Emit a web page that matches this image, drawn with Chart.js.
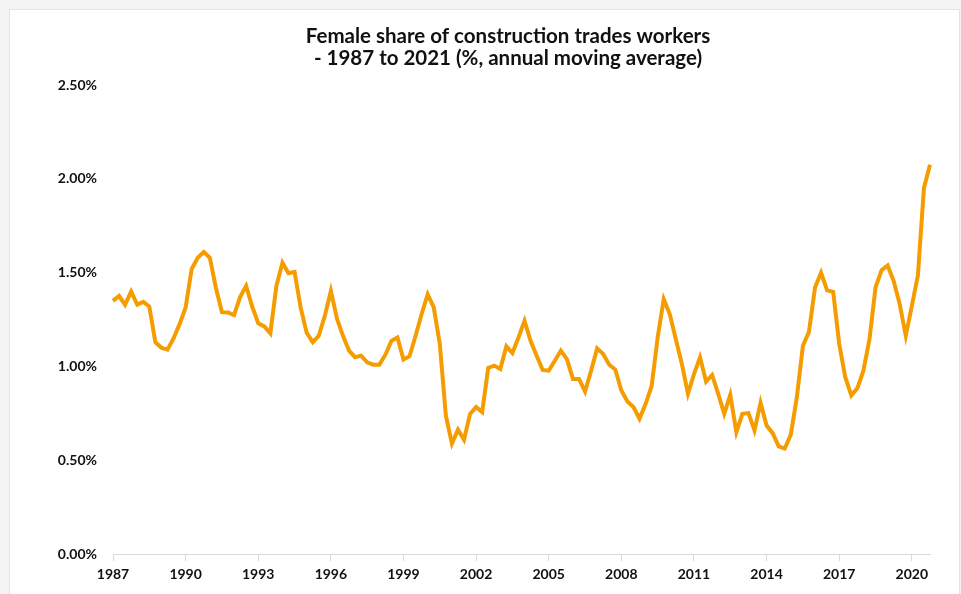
<!DOCTYPE html>
<html>
<head>
<meta charset="utf-8">
<script src="https://cdn.jsdelivr.net/npm/chart.js@4"></script>
<style>
  html, body { margin: 0; padding: 0; background: #f3f3f3; overflow: hidden; }
  #card {
    position: absolute; left: 10px; top: 10px; width: 949px; height: 600px;
    background: #fff; box-shadow: 0 0 0 1px #e2e2e2; overflow: hidden;
  }
  canvas { display: block; }
</style>
</head>
<body>
<div id="card"><canvas id="shareChart" width="996" height="584"></canvas></div>
<script>
"use strict";

const years = [1987, 1988, 1989, 1990, 1991, 1992, 1993, 1994, 1995, 1996, 1997, 1998,
  1999, 2000, 2001, 2002, 2003, 2004, 2005, 2006, 2007, 2008, 2009, 2010, 2011, 2012,
  2013, 2014, 2015, 2016, 2017, 2018, 2019, 2020];
const quarters = ["Q1", "Q2", "Q3", "Q4"];
const tickYears = ["1987", "1990", "1993", "1996", "1999", "2002", "2005", "2008",
  "2011", "2014", "2017", "2020"];

// female share, % (annual moving average), quarterly
const femaleShare = [
  1.35, 1.376, 1.33, 1.40, 1.33, 1.345, 1.32, 1.13, 1.10, 1.09, 1.15, 1.226,
  1.315, 1.52, 1.58, 1.61, 1.58, 1.42, 1.29, 1.288, 1.274, 1.37, 1.43, 1.32,
  1.23, 1.214, 1.177, 1.43, 1.553, 1.497, 1.504, 1.315, 1.18, 1.13, 1.164, 1.27,
  1.403, 1.256, 1.164, 1.085, 1.05, 1.058, 1.023, 1.01, 1.01, 1.062, 1.137, 1.155,
  1.037, 1.055, 1.164, 1.28, 1.385, 1.315, 1.12, 0.74, 0.59, 0.664, 0.61, 0.748,
  0.784, 0.757, 0.993, 1.005, 0.987, 1.108, 1.072, 1.155, 1.244, 1.137, 1.058, 0.982,
  0.978, 1.031, 1.085, 1.04, 0.934, 0.934, 0.867, 0.978, 1.097, 1.067, 1.01, 0.984,
  0.872, 0.814, 0.784, 0.722, 0.80, 0.895, 1.155, 1.359, 1.28, 1.146, 1.014, 0.855,
  0.96, 1.049, 0.92, 0.955, 0.855, 0.748, 0.849, 0.651, 0.748, 0.752, 0.66, 0.807,
  0.686, 0.645, 0.575, 0.563, 0.637, 0.837, 1.111, 1.185, 1.421, 1.50, 1.406, 1.398,
  1.12, 0.943, 0.846, 0.885, 0.978, 1.146, 1.421, 1.514, 1.539, 1.456, 1.332, 1.164,
  1.323, 1.486, 1.952, 2.075
];

const labels = years.flatMap((y) => quarters.map((q) => `${y} ${q}`));

const tickFont = { family: "Lato", size: 14, weight: "bold" };

const ctx = document.getElementById("shareChart").getContext("2d");

// canvas is wider than the card; the x axis reserves the extra room on the right
// so the title (centred on the full canvas) sits where the original has it
new Chart(ctx, {
  type: "line",
  data: {
    labels: labels,
    datasets: [
      {
        data: femaleShare,
        borderColor: "#F59C00",
        borderWidth: 4,
        pointRadius: 0,
        tension: 0,
        fill: false,
      },
    ],
  },
  options: {
    responsive: false,
    animation: false,
    layout: {
      padding: { top: 0, left: 0, right: 0, bottom: 6 },
    },
    plugins: {
      legend: { display: false },
      tooltip: { enabled: false },
      title: {
        display: true,
        text: [
          "Female share of construction trades workers",
          "- 1987 to 2021 (%, annual moving average)",
        ],
        color: "#111",
        font: { family: "Lato", size: 20.5, weight: "bold", lineHeight: 1.1 },
        padding: { top: 15, bottom: 15 },
      },
    },
    scales: {
      x: {
        afterFit: (scale) => {
          scale.paddingRight = 76;
        },
        grid: {
          display: true,
          drawOnChartArea: false,
          drawTicks: true,
          tickLength: 7,
          color: "#d9d9d9",
        },
        border: { display: true, color: "#d9d9d9" },
        ticks: {
          autoSkip: false,
          maxRotation: 0,
          padding: 5,
          color: "#111",
          font: tickFont,
          callback: function (value) {
            const [year, q] = this.getLabelForValue(value).split(" ");
            return q === "Q1" && tickYears.includes(year) ? year : null;
          },
        },
      },
      y: {
        min: 0,
        max: 2.5,
        grid: { display: false, drawTicks: false },
        border: { display: false },
        afterFit: (scale) => {
          scale.width = 103;
        },
        ticks: {
          stepSize: 0.5,
          padding: 16,
          color: "#111",
          font: tickFont,
          callback: (v) => v.toFixed(2) + "%",
        },
      },
    },
  },
});
</script>
</body>
</html>
